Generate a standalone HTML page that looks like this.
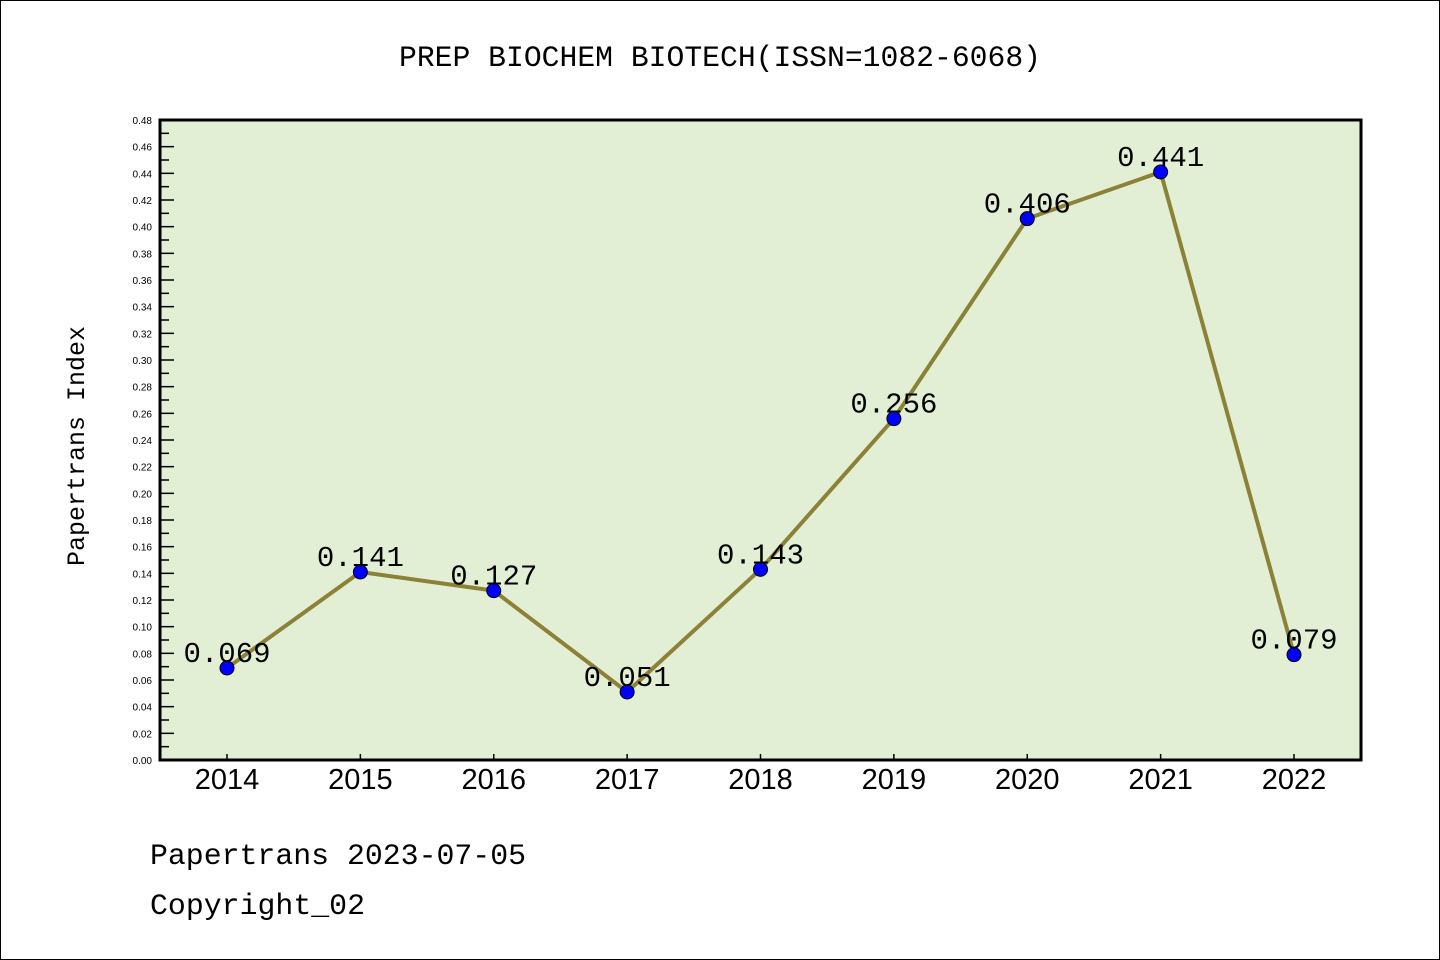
<!DOCTYPE html>
<html><head><meta charset="utf-8"><style>
html,body{margin:0;padding:0;background:#fff}
svg{display:block}
.mono{font-family:"Liberation Mono","Noto Sans CJK SC",monospace}
.sans{font-family:"Liberation Sans","DejaVu Sans",sans-serif}
</style></head><body>
<svg id="chart" width="1440" height="960" xmlns="http://www.w3.org/2000/svg">
<rect x="0.5" y="0.5" width="1439" height="959" fill="#fff" stroke="#000" stroke-width="1"/>
<text class="mono" x="720" y="66" font-size="30" text-anchor="middle" textLength="642" lengthAdjust="spacingAndGlyphs">PREP BIOCHEM BIOTECH(ISSN=1082-6068)</text>
<rect x="160" y="120" width="1201" height="640" fill="#e2efd5"/>
<g id="yticks"></g>
<g id="xticks"></g>
<g id="series"></g>
<rect x="160" y="120" width="1201" height="640" fill="none" stroke="#000" stroke-width="3"/>
<text class="mono" transform="translate(84,446) rotate(-90)" font-size="25" text-anchor="middle">Papertrans Index</text>
<text class="mono" x="150" y="864" font-size="30" textLength="376" lengthAdjust="spacingAndGlyphs">Papertrans 2023-07-05</text>
<text class="mono" x="150" y="914" font-size="30" textLength="215" lengthAdjust="spacingAndGlyphs">Copyright_02</text>
</svg>
<script>
const years = ["2014","2015","2016","2017","2018","2019","2020","2021","2022"];
const values = [0.069,0.141,0.127,0.051,0.143,0.256,0.406,0.441,0.079];
const valueLabels = ["0.069","0.141","0.127","0.051","0.143","0.256","0.406","0.441","0.079"];
const yMax = 0.48;
const NS="http://www.w3.org/2000/svg";
function xs(i){return 227+i*(1294-227)/(years.length-1);}
function ys(v){return 760-v/yMax*640;}
function mk(tag,attrs,parent){const e=document.createElementNS(NS,tag);for(const k in attrs)e.setAttribute(k,attrs[k]);parent.appendChild(e);return e;}
const yt=document.getElementById('yticks');
for(let k=0;k<=48;k++){
  const v=k/100, y=ys(v), major=k%2===0;
  const t=mk('line',{x1:160,x2:160+(major?14:9),y1:y,y2:y,stroke:'#000','stroke-width':1.5},yt);
  
  
  if(major){
    const l=mk('text',{x:152,y:y+4,'font-size':10,'text-anchor':'end',class:'sans'},yt);
    
    
    l.textContent=v.toFixed(2);
  }
}
const xt=document.getElementById('xticks');
years.forEach((yr,i)=>{
  const x=xs(i);
  const t=mk('line',{x1:x,x2:x,y1:760,y2:754,stroke:'#000','stroke-width':1.5},xt);
  
  
  const l=mk('text',{x:x,y:789,'font-size':29,'text-anchor':'middle',class:'sans'},xt);
  
  
  l.textContent=yr;
});
const s=document.getElementById('series');
const pts=values.map((v,i)=>xs(i)+','+ys(v)).join(' ');
const pl=mk('polyline',{points:pts,fill:'none',stroke:'#8b8137','stroke-width':4,'stroke-linejoin':'round'},s);


values.forEach((v,i)=>{
  const c=mk('circle',{cx:xs(i),cy:ys(v),r:7,fill:'#0000ff',stroke:'#000','stroke-width':1},s);
  
  
});
values.forEach((v,i)=>{
  const l=mk('text',{x:xs(i),y:ys(v)-6,'font-size':29,'text-anchor':'middle',class:'mono'},s);
  
  
  l.textContent=valueLabels[i];
});
</script>
</body></html>
